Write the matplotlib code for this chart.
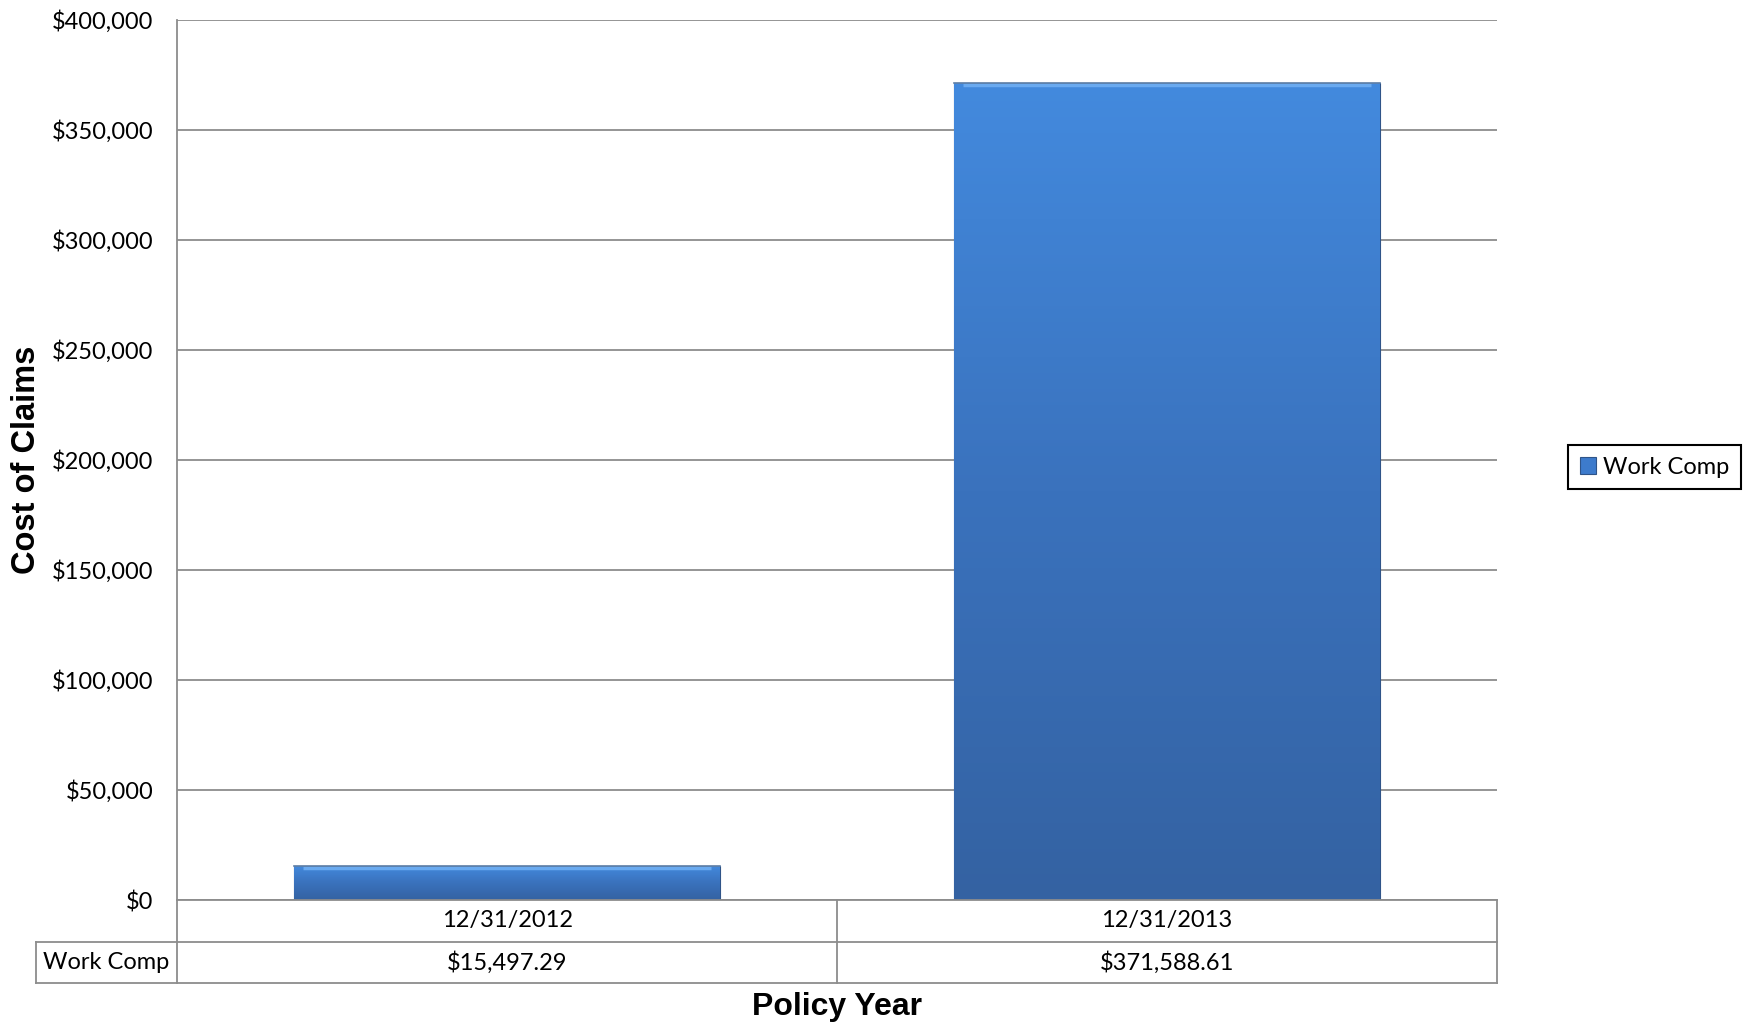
import numpy as np
import matplotlib
matplotlib.use("Agg")
import matplotlib.pyplot as plt
from matplotlib.colors import LinearSegmentedColormap
from matplotlib.ticker import FuncFormatter

# data
years = ["12/31/2012", "12/31/2013"]
work_comp = [15497.29, 371588.61]
series_name = "Work Comp"
yticks = [0, 50000, 100000, 150000, 200000, 250000, 300000, 350000, 400000]

grid_col = "#8c8c8c"
tick_font = "Lato"

fig = plt.figure(figsize=(17.43, 10.26), dpi=100)
ax = fig.add_axes([0.1016, 0.1228, 0.7573, 0.8577])

x = np.arange(len(years))
bars = ax.bar(x, work_comp, width=0.645, color="#3d7bcc", zorder=3,
              edgecolor="#2f5488", linewidth=0.8, label=series_name)

# vertical gradient inside each bar
cmap = LinearSegmentedColormap.from_list("bl", ["#3462a2", "#3a72bd", "#438ade"])
grad = np.linspace(0, 1, 256).reshape(-1, 1)
for b in bars:
    x0, w, h = b.get_x(), b.get_width(), b.get_height()
    im = ax.imshow(grad, cmap=cmap, aspect="auto", origin="lower",
                   extent=[x0, x0 + w, 0, h], zorder=3.5)
    im.set_clip_path(b)
    # light bevel along the top edge
    ax.plot([x0 + w * 0.02, x0 + w * 0.98], [h - 1100, h - 1100],
            color="#6aaaf0", lw=2.5, zorder=4, solid_capstyle="butt")
    ax.plot([x0, x0 + w], [h, h], color="#5f7fa6", lw=1.2, zorder=4)

ax.set_xlim(-0.5, 1.5)
ax.set_ylim(0, 400000)
ax.set_yticks(yticks)
ax.yaxis.set_major_formatter(FuncFormatter(lambda v, p: "${:,.0f}".format(v)))
ax.tick_params(axis="y", length=0, pad=17, labelsize=17)
for lab in ax.get_yticklabels():
    lab.set_fontfamily(tick_font)
ax.set_xticks([])
ax.grid(axis="y", color=grid_col, lw=1.3, zorder=0)
for s in ["top", "right", "bottom"]:
    ax.spines[s].set_visible(False)
ax.spines["left"].set_color(grid_col)
ax.spines["left"].set_linewidth(1.3)

# data table under the plot
row_h = 0.0472
lab_left = -0.107
tr = ax.get_xaxis_transform()
ta = ax.transAxes
line_kw = dict(color=grid_col, lw=1.3, clip_on=False, zorder=5)
ax.plot([-0.5, 1.5], [0, 0], transform=tr, **line_kw)
for yy in [-row_h, -2 * row_h]:
    ax.plot([lab_left, 1.0], [yy, yy], transform=ta, **line_kw)
for xx in [-0.5, 0.5, 1.5]:
    ax.plot([xx, xx], [0, -2 * row_h], transform=tr, **line_kw)
ax.plot([lab_left, lab_left], [-row_h, -2 * row_h], transform=ta, **line_kw)

for i, (yr, v) in enumerate(zip(years, work_comp)):
    ax.text(i, -row_h / 2, yr, transform=tr, ha="center", va="center",
            fontsize=17, family=tick_font)
    ax.text(i, -1.5 * row_h, "${:,.2f}".format(v), transform=tr,
            ha="center", va="center", fontsize=17, family=tick_font)
ax.text((lab_left + 0) / 2, -1.5 * row_h, series_name, transform=ta,
        ha="center", va="center", fontsize=17, family=tick_font)

# axis titles
ax.text(0.5, -0.1216, "Policy Year", ha="center", va="center", transform=ta,
        fontsize=23, fontweight="bold", family="Liberation Sans")
fig.text(27 / 1743, 1 - 460 / 1026, "Cost of Claims", ha="center", va="center",
         rotation=90, fontsize=23.5, fontweight="bold", family="Liberation Sans")

leg = fig.legend(handles=[bars], labels=[series_name], loc="center",
                 bbox_to_anchor=(1654.5 / 1743, 1 - 467 / 1026),
                 fancybox=False, edgecolor="black", framealpha=1,
                 prop={"family": tick_font, "size": 17},
                 handlelength=0.7, handleheight=0.7, handletextpad=0.3,
                 borderpad=0.5)
leg.get_frame().set_linewidth(1.5)

fig.savefig("out.png", dpi=100)
